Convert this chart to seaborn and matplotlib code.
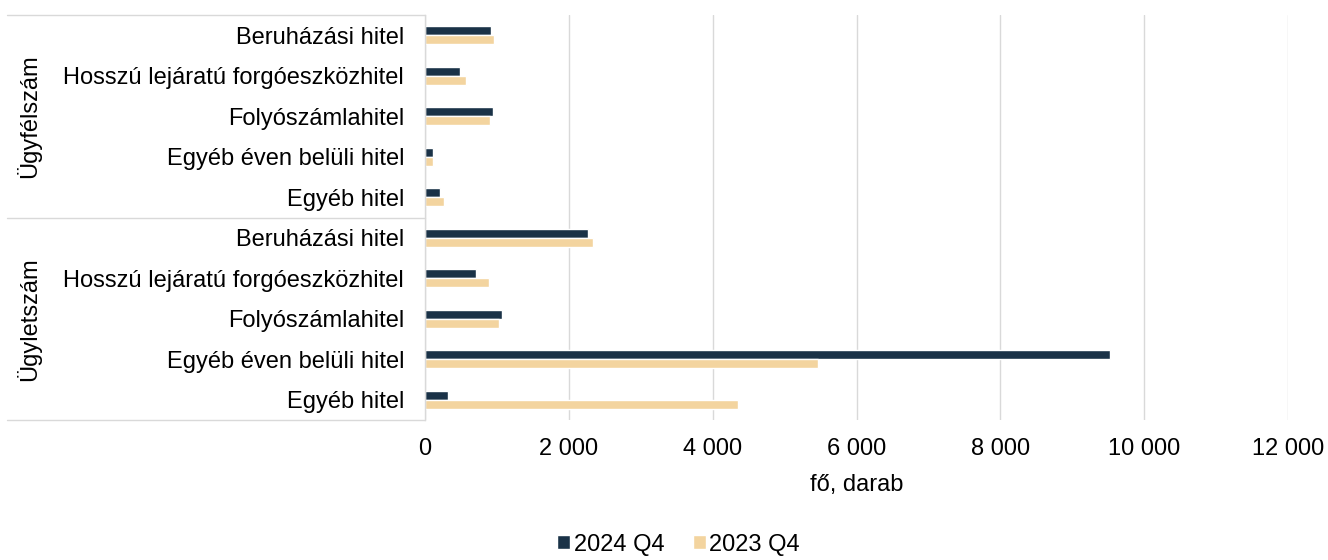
import matplotlib
matplotlib.use("Agg")
import matplotlib.pyplot as plt
import matplotlib.transforms as mtransforms
from matplotlib.ticker import FuncFormatter
import seaborn as sns
import pandas as pd

groups = ["Ügyfélszám", "Ügyletszám"]
items = ["Beruházási hitel", "Hosszú lejáratú forgóeszközhitel", "Folyószámlahitel",
         "Egyéb éven belüli hitel", "Egyéb hitel"]
series = ["2024 Q4", "2023 Q4"]
vals_2024 = [918, 490, 946, 110, 210, 2267, 705, 1071, 9527, 320]
vals_2023 = [960, 570, 904, 110, 264, 2337, 890, 1029, 5466, 4353]
colors = ["#1a3247", "#f3d49f"]

sns.set_theme(style="white")
plt.rcParams["font.family"] = ["Liberation Sans", "DejaVu Sans"]
plt.rcParams["text.color"] = "black"
plt.rcParams["axes.labelcolor"] = "black"
FS = 17

keys = [f"{g}|{it}" for g in groups for it in items]
df = pd.DataFrame({
    "key": keys * 2,
    "value": vals_2024 + vals_2023,
    "series": [series[0]] * len(keys) + [series[1]] * len(keys),
})

fig = plt.figure(figsize=(13.28, 5.6), dpi=100)
ax = fig.add_axes([425 / 1328, 1 - 420 / 560, (1288 - 425) / 1328, (420 - 15) / 560])
sns.barplot(data=df, x="value", y="key", hue="series", order=keys, hue_order=series,
            palette=colors, width=0.45, orient="h", ax=ax, saturation=1, legend=True)

ax.set_xlim(0, 12000)
ax.set_ylim(len(keys) - 0.5, -0.5)
ax.set_xticks(range(0, 12001, 2000))
ax.xaxis.set_major_formatter(FuncFormatter(lambda v, p: f"{int(v):,}".replace(",", " ")))
ax.grid(axis="x", color="#d9d9d9", linewidth=1)
ax.set_axisbelow(True)
ax.set_yticks(range(len(keys)))
ax.set_yticklabels([k.split("|")[1] for k in keys])
ax.tick_params(axis="y", length=0, pad=15, labelsize=FS, colors="black")
ax.tick_params(axis="x", length=0, pad=13, labelsize=FS, colors="black")
ax.set_ylabel("")
ax.set_xlabel("fő, darab", fontsize=FS, labelpad=10, color="black")
for s in ["top", "right", "bottom"]:
    ax.spines[s].set_visible(False)
ax.spines["left"].set_color("#d9d9d9")
ax.spines["left"].set_linewidth(1)

trans = mtransforms.blended_transform_factory(ax.transAxes, ax.transData)
x0 = (7 - 425) / (1288 - 425)
for yy in [-0.5, 4.5, 9.5]:
    ax.plot([x0, 0], [yy, yy], transform=trans, color="#d9d9d9", lw=1, clip_on=False)
xg = (29 - 425) / (1288 - 425)
for i, g in enumerate(groups):
    ax.text(xg, 2 + 5 * i, g, transform=trans, rotation=90, ha="center", va="center",
            fontsize=FS, color="black")

ax.legend_.remove()
handles, labels = ax.get_legend_handles_labels()
leg = fig.legend(handles, labels, loc="lower center", bbox_to_anchor=(0.511, -0.03), ncol=2,
                 frameon=False, fontsize=FS, handlelength=0.55, handleheight=0.55,
                 handletextpad=0.15, columnspacing=1.2)
for t in leg.get_texts():
    t.set_color("black")

fig.savefig("out.png", dpi=100)
